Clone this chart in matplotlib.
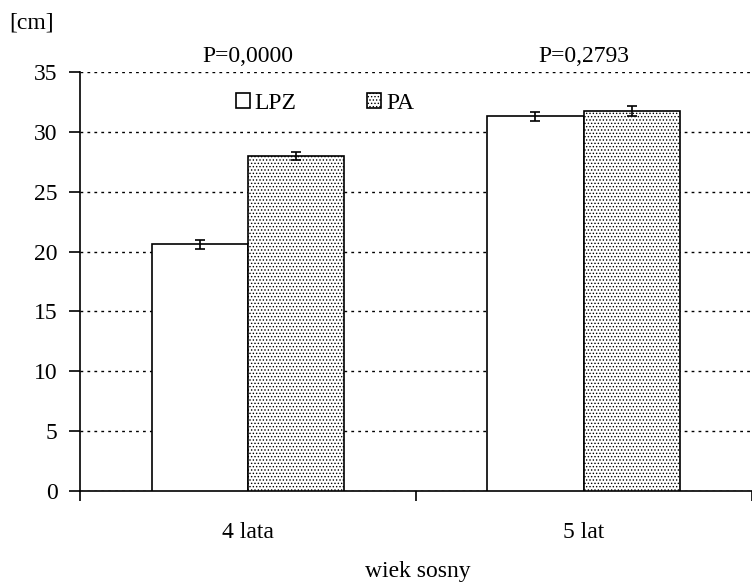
import numpy as np
import matplotlib.pyplot as plt

plt.rcParams['font.family'] = ['Liberation Serif', 'DejaVu Serif']
plt.rcParams['hatch.linewidth'] = 0.6

# data
categories = ['4 lata', '5 lat']
series = ['LPZ', 'PA']
lpz = [20.6, 31.3]
pa = [28.0, 31.75]
lpz_err = [0.35, 0.4]
pa_err = [0.35, 0.4]
p_values = ['P=0,0000', 'P=0,2793']

fig = plt.figure(figsize=(7.52, 5.83), dpi=100)
ax = fig.add_axes([0.1064, 0.1578, 0.893, 0.7187])

x = np.arange(len(categories)) + 0.5
w = 0.287
ekw = dict(ecolor='black', elinewidth=1.2, capsize=3.5, capthick=1.2)
ax.bar(x - w / 2, lpz, w, yerr=lpz_err, color='white', edgecolor='black',
       linewidth=1.2, label=series[0], error_kw=ekw, zorder=3)
ax.bar(x + w / 2, pa, w, yerr=pa_err, color='white', edgecolor='black',
       linewidth=1.2, hatch='.....', label=series[1], error_kw=ekw, zorder=3)

ax.set_xlim(0, 2)
ax.set_ylim(0, 35)
ax.set_yticks(np.arange(0, 40, 5))
ax.set_xticks([0, 1, 2])
ax.set_xticklabels([])
ax.set_xticks(x, minor=True)
ax.set_xticklabels(categories, minor=True)
ax.tick_params(axis='x', which='minor', length=0, pad=22, labelsize=17)
ax.tick_params(axis='x', which='major', length=7, width=1.2, direction='out')
ax.tick_params(axis='y', length=8, width=1.2, labelsize=17, pad=8,
               direction='out')

ax.yaxis.grid(True, linestyle=(0, (2, 3)), color='black', linewidth=1, zorder=0)
ax.set_axisbelow(True)
for s in ['top', 'right']:
    ax.spines[s].set_visible(False)
for s in ['left', 'bottom']:
    ax.spines[s].set_linewidth(1.2)

for xi, p in zip(x, p_values):
    ax.text(xi, 35.4, p, ha='center', va='bottom', fontsize=17)

fig.text(0.012, 0.96, '[cm]', fontsize=17, ha='left', va='center')
fig.text(0.556, 1 - 572 / 583, 'wiek sosny', fontsize=17, ha='center',
         va='center')

ax.legend(loc='upper left', bbox_to_anchor=(0.2, 1.0), ncol=2, frameon=False,
          fontsize=17, handlelength=0.6, handleheight=0.6, handletextpad=0.2,
          columnspacing=3.0)

plt.savefig('out.png')
